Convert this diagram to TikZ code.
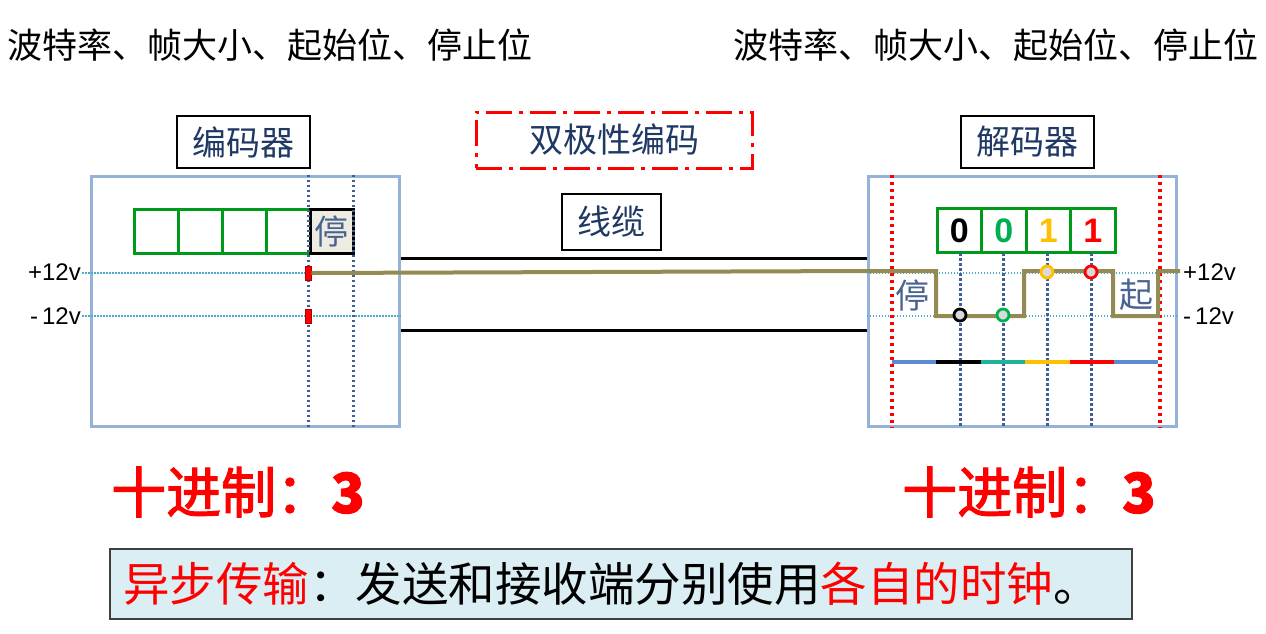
\documentclass[tikz,border=0pt]{standalone}
\usepackage{fontspec}
\setmainfont{Liberation Sans}
\newfontfamily\cjk{Noto Sans CJK SC}
\newfontfamily\cjkb[FakeBold=2]{Noto Sans CJK SC}
\definecolor{frameblue}{HTML}{95B3D7}
\definecolor{sigolive}{HTML}{948A54}
\definecolor{navytxt}{HTML}{1F3864}
\definecolor{dotblue}{HTML}{3F5F95}
\definecolor{cyanline}{HTML}{4BACC6}
\definecolor{boxgreen}{HTML}{009A1A}
\definecolor{lightbg}{HTML}{DAEEF3}
\definecolor{beige}{HTML}{EEECE1}
\definecolor{stopblue}{HTML}{4A6491}
\definecolor{goldc}{HTML}{FFC000}
\definecolor{greenc}{HTML}{00B050}
\definecolor{tealc}{HTML}{1FB39A}
\definecolor{barblue}{HTML}{5B8BD0}
\tikzset{
  lbl/.style={draw=black, line width=1.2pt, fill=white, inner sep=0pt, text=navytxt, font=\cjk\fontsize{34}{40}\selectfont},
  frame/.style={draw=frameblue, line width=3pt, inner sep=0pt},
  gbox/.style={draw=boxgreen, line width=3pt, minimum width=44pt, minimum height=44pt, inner sep=0pt},
  vdot/.style={dotblue, line width=3pt, dash pattern=on 2.6pt off 2.4pt},
  rdot/.style={red, line width=3.5pt, dash pattern=on 3.5pt off 3.5pt},
  hdot/.style={cyanline, line width=1.2pt, dash pattern=on 1.5pt off 1.5pt},
  volt/.style={font=\fontsize{24}{28}\selectfont, inner sep=0pt},
  marker/.style={fill=red, draw=red!70!black, line width=0.6pt, minimum width=6pt, minimum height=14pt, inner sep=0pt},
  dig/.style={font=\bfseries\fontsize{34}{38}\selectfont},
  samp/.style={circle, line width=2.8pt, fill=black!15, minimum size=12pt, inner sep=0pt},
  big/.style={text=red, font=\cjkb\fontsize{55}{60}\selectfont, inner sep=0pt},
  toptxt/.style={font=\cjk\fontsize{35}{40}\selectfont, inner sep=0pt},
  hanzi/.style={text=stopblue, font=\cjk\fontsize{34}{38}\selectfont, inner sep=0pt}
}
\begin{document}
\begin{tikzpicture}[x=1pt,y=-1pt]
\useasboundingbox[fill=white] (0,0) rectangle (1266,633);

% top texts
\node[toptxt, anchor=west] (tl) at (7,45) {波特率、帧大小、起始位、停止位};
\node[toptxt, anchor=east] (tr) at (1259,45) {波特率、帧大小、起始位、停止位};

% labels
\node[lbl, minimum width=133pt, minimum height=52pt] (enclbl) at (243.5,142) {编码器};
\node[lbl, minimum width=133pt, minimum height=52pt] (declbl) at (1027.5,142) {解码器};
\node[lbl, draw=red, line width=3pt, dash pattern=on 26pt off 7pt on 4pt off 7pt, minimum width=276pt, minimum height=56pt] (bipolar) at (614,140) {双极性编码};
\node[lbl, minimum width=99pt, minimum height=56pt] (cable) at (611.5,222) {线缆};

% frames
\node[frame, minimum width=308pt, minimum height=250pt] (enc) at (245,301) {};
\node[frame, minimum width=308pt, minimum height=250pt] (dec) at (1022,301) {};

% horizontal voltage dotted lines
\coordinate (pL) at (82,273);
\coordinate (mL) at (82,316);
\draw[hdot] (pL) -- (enc.east |- pL);
\draw[hdot] (mL) -- (enc.east |- mL);
\draw[hdot] (dec.west |- pL) -- (dec.east |- pL);
\draw[hdot] (dec.west |- mL) -- (dec.east |- mL);

\node[volt, anchor=east] (vp1) at (81,272) {+12v};
\node[volt, anchor=east] (vm1) at (81,316) {-\,12v};
\node[volt, anchor=west] (vp2) at (1183,272) {+12v};
\node[volt, anchor=west] (vm2) at (1183,316) {-\,12v};

% encoder boxes
\node[gbox] (g1) at (156,231) {};
\node[gbox] (g2) at (200,231) {};
\node[gbox] (g3) at (244,231) {};
\node[gbox] (g4) at (288,231) {};
\node[draw=black, line width=3pt, fill=beige, minimum width=43pt, minimum height=44pt, inner sep=0pt, hanzi] (stp) at (331.5,231) {停};

% encoder dotted verticals
\draw[vdot] (enc.north -| 308,0) -- (enc.south -| 308,0);
\draw[vdot] (enc.north -| 353,0) -- (enc.south -| 353,0);

% markers
\node[marker] (mk1) at (308,273) {};
\node[marker] (mk2) at (308,316) {};

% cable
\draw[line width=3pt] (enc.east |- 0,258) -- (dec.west |- 0,258);
\draw[line width=3pt] (enc.east |- 0,330) -- (dec.west |- 0,330);

% decoder red dotted verticals
\draw[rdot] (dec.north -| 892,0) -- (dec.south -| 892,0);
\draw[rdot] (dec.north -| 1160,0) -- (dec.south -| 1160,0);

% decoder digit boxes
\node[gbox, minimum width=44.5pt] (d1) at (959.25,230.5) {};
\node[gbox, minimum width=44.5pt] (d2) at (1003.75,230.5) {};
\node[gbox, minimum width=44.5pt] (d3) at (1048.25,230.5) {};
\node[gbox, minimum width=44.5pt] (d4) at (1092.75,230.5) {};
\node[dig, text=black] at (d1) {0};
\node[dig, text=greenc] at (d2) {0};
\node[dig, text=goldc] at (d3) {1};
\node[dig, text=red] at (d4) {1};

% sample dotted verticals
\foreach \x in {960,1003,1047,1091}{
  \draw[vdot] (\x,253) -- (dec.south -| \x,0);
}

% bar
\draw[line width=4pt, barblue] (892,362) -- (936,362);
\draw[line width=4pt, black] (936,362) -- (981,362);
\draw[line width=4pt, tealc] (981,362) -- (1025,362);
\draw[line width=4pt, goldc] (1025,362) -- (1070,362);
\draw[line width=4pt, red] (1070,362) -- (1114,362);
\draw[line width=4pt, barblue] (1114,362) -- (1158,362);

% waveform
\coordinate (wend) at (1180,271);
\draw[sigolive, line width=4pt, line join=miter] (mk1.east) -- (868,271) -- (936,271) -- (936,316) -- (1024,316) -- (1024,271) -- (1113,271) -- (1113,316) -- (1158,316) -- (1158,271) -- (wend);

\node[hanzi] (dstop) at (912,295) {停};
\node[hanzi] (dstart) at (1136,295) {起};

\node[samp, draw=black] (s1) at (960,315) {};
\node[samp, draw=greenc] (s2) at (1003,315) {};
\node[samp, draw=goldc] (s3) at (1047,272) {};
\node[samp, draw=red] (s4) at (1091,272) {};

% decimal
\node[big, anchor=west] (decL) at (111,492) {十进制：\bfseries 3};
\node[big, anchor=west] (decR) at (902,492) {十进制：\bfseries 3};

% bottom bar
\node[draw=black!75, line width=1.5pt, fill=lightbg, minimum width=1022pt, minimum height=70pt, inner sep=0pt] (note) at (621,584) {};
\node[anchor=west, inner sep=0pt, font=\cjk\fontsize{46.5}{52}\selectfont] (notetxt) at (123,584) {\textcolor{red}{异步传输}：发送和接收端分别使用\textcolor{red}{各自的时钟}。};
\end{tikzpicture}
\end{document}
